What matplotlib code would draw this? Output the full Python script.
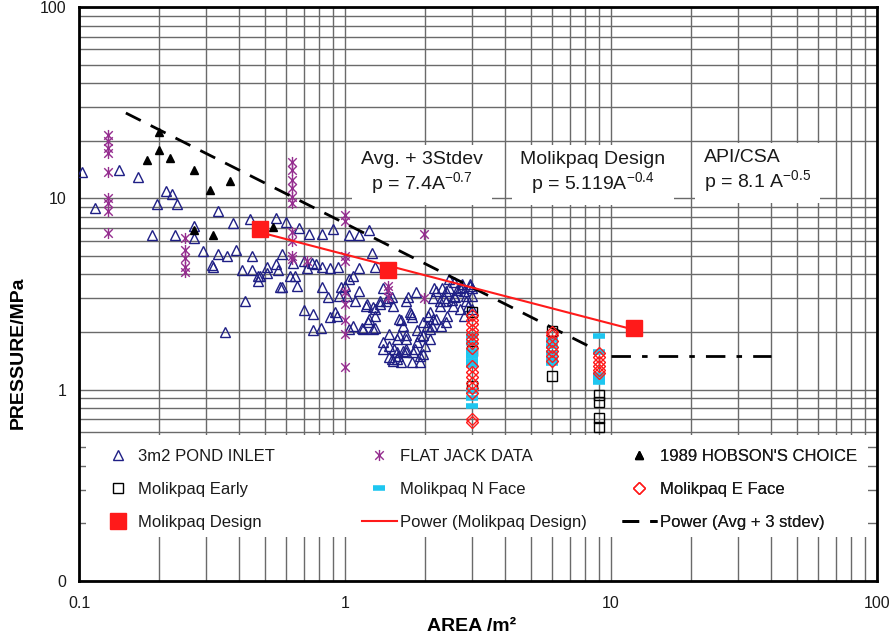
import numpy as np
import matplotlib.pyplot as plt
from matplotlib.lines import Line2D
from matplotlib.patches import Rectangle
from matplotlib.path import Path
from matplotlib.ticker import LogLocator, NullFormatter

plt.rcParams['font.family'] = ['Liberation Sans', 'DejaVu Sans']
plt.rcParams['mathtext.fontset'] = 'custom'
plt.rcParams['mathtext.rm'] = 'Liberation Sans'
plt.rcParams['mathtext.it'] = 'Liberation Sans'
plt.rcParams['mathtext.default'] = 'regular'

# 3m2 Pond Inlet tests (area m2, pressure MPa)
pond_area = [0.103, 0.115, 0.141, 0.166, 0.196, 0.212, 0.223, 0.233, 0.188, 0.23,
             0.27, 0.27, 0.292, 0.316, 0.333, 0.333, 0.32, 0.36, 0.378, 0.39,
             0.41, 0.44, 0.447, 0.447, 0.42, 0.355, 0.47, 0.47, 0.51, 0.51,
             0.55, 0.56, 0.57, 0.58, 0.55, 0.6, 0.67, 0.73, 0.82, 0.9,
             0.62, 0.65, 0.66, 0.7, 0.72, 0.78, 0.82, 0.88, 0.94, 0.7,
             0.76, 0.76, 0.81, 0.82, 0.86, 0.88, 0.92, 0.97, 0.95, 0.93,
             0.64, 0.75, 0.58, 0.48,
             1.04, 1.13, 1.23, 1.26, 1.13, 1.3, 1.07, 1.0, 1.09, 1.04,
             1.02, 1.13, 1.2, 1.07, 1.04, 1.17, 1.28, 1.22, 1.3, 1.35,
             1.28, 1.23, 1.21, 1.3, 1.39, 1.43, 1.47, 1.52, 1.6, 1.73,
             1.78, 1.65, 1.39, 1.39, 1.47, 1.53, 1.58, 1.52, 1.47, 1.57,
             1.62, 1.7, 1.65, 1.86, 1.91, 1.91, 1.96, 2.08, 2.05, 2.2,
             2.27, 2.2, 2.31, 2.46, 2.57, 2.7, 2.85, 3.0, 2.4, 2.55,
             2.42, 2.3, 2.13, 2.7, 2.85, 2.08, 2.0, 1.84, 1.7, 1.6,
             1.47, 2.57, 2.46, 2.75, 2.94, 3.0, 2.8, 3.0, 1.78, 1.5,
             1.8, 2.08, 2.28, 2.4, 2.63, 2.8, 2.94, 2.15, 2.4, 2.03,
             1.86, 1.7, 1.57, 1.63, 1.77, 1.96, 1.91, 1.7, 1.57, 1.76,
             1.96, 2.15, 1.5, 1.7, 1.85, 2.17, 1.35, 1.16, 1.3, 2.9,
             2.6, 2.35, 2.75, 2.52]
pond_pres = [13.8, 8.9, 14.1, 12.9, 9.3, 10.9, 10.6, 9.3, 6.4, 6.4,
             7.2, 6.2, 5.3, 4.5, 8.6, 5.1, 4.4, 5.0, 7.4, 5.4,
             4.2, 7.8, 5.0, 4.2, 2.9, 2.0, 3.95, 3.7, 4.4, 4.05,
             4.55, 4.2, 3.45, 5.1, 7.9, 7.5, 7.0, 6.5, 6.5, 6.9,
             3.95, 3.95, 3.5, 4.7, 4.3, 4.55, 4.4, 4.3, 4.4, 2.6,
             2.5, 2.05, 2.1, 3.45, 3.05, 2.4, 2.55, 3.45, 3.1, 2.44,
             4.6, 4.6, 3.45, 3.95,
             6.4, 6.4, 6.8, 5.15, 4.3, 4.4, 3.95, 3.5, 2.9, 3.8,
             3.1, 3.26, 2.75, 2.15, 2.08, 2.08, 2.08, 2.27, 2.44, 2.8,
             2.7, 2.35, 2.8, 2.65, 3.4, 2.9, 3.0, 2.75, 2.35, 3.06,
             2.4, 2.16, 1.78, 1.64, 1.7, 1.64, 1.5, 1.42, 1.49, 1.45,
             1.4, 1.58, 1.6, 1.78, 1.5, 1.4, 1.92, 2.08, 2.44, 2.35,
             2.75, 3.26, 3.38, 3.38, 3.1, 3.38, 3.1, 3.38, 2.9, 2.75,
             2.44, 2.16, 2.16, 2.65, 2.9, 1.85, 1.7, 1.64, 1.85, 1.92,
             1.96, 3.67, 3.8, 3.58, 3.58, 3.1, 2.44, 2.65, 1.4, 1.45,
             1.58, 2.56, 2.9, 3.26, 3.3, 3.26, 3.5, 3.0, 2.27, 2.16,
             2.04, 1.92, 1.85, 2.3, 2.5, 2.27, 1.9, 1.64, 1.58, 2.55,
             1.54, 2.35, 3.05, 2.9, 3.25, 3.4, 2.9, 2.1, 2.1, 2.75,
             3.05, 3.0, 3.45, 2.95]

# Flat jack data
jack_area = [0.128] * 9 + [0.25] * 5 + [0.63] * 10 + [0.72] + [1.0] * 9 + [1.45] * 3 + [1.98, 1.98]
jack_pres = [21.5, 20.0, 18.3, 17.2, 13.7, 10.0, 9.4, 8.6, 6.6,
             6.2, 5.4, 4.9, 4.4, 4.1,
             15.5, 14.0, 12.4, 11.3, 10.2, 9.4, 6.7, 6.0, 5.0, 4.8,
             4.7,
             8.2, 7.6, 5.0, 4.7, 3.25, 2.8, 2.3, 1.95, 1.32,
             3.5, 3.3, 3.05,
             6.55, 3.0]

# 1989 Hobson's Choice
hobson_area = [0.18, 0.2, 0.2, 0.22, 0.27, 0.27, 0.31, 0.32, 0.37, 0.535]
hobson_pres = [15.8, 22.2, 18.0, 16.2, 14.0, 6.8, 11.0, 6.4, 12.3, 7.1]

# Molikpaq faces
early_area = [3, 3, 3, 6, 6, 9, 9, 9, 9]
early_pres = [2.55, 1.6, 1.05, 2.03, 1.18, 0.94, 0.86, 0.71, 0.64]
nface_area = [3] * 9 + [6] * 5 + [9] * 5
nface_pres = [1.9, 1.75, 1.6, 1.5, 1.42, 1.35, 0.98, 0.9, 0.82,
              1.82, 1.7, 1.55, 1.45, 1.38,
              1.9, 1.58, 1.2, 1.15, 1.1]
eface_area = [3] * 16 + [6] * 7 + [9] * 6
eface_pres = [2.45, 2.3, 2.2, 2.05, 1.95, 1.85, 1.75, 1.65, 1.33, 1.24, 1.16, 1.08,
              1.02, 0.96, 0.7, 0.68,
              2.0, 1.92, 1.8, 1.68, 1.6, 1.5, 1.42,
              1.55, 1.48, 1.4, 1.33, 1.27, 1.22]

# Molikpaq design points
design_area = [0.48, 1.45, 12.2]
design_pres = [6.9, 4.2, 2.1]

# Avg + 3 stdev curve p = c * A^k, then flat cap
avg_coef, avg_exp = 7.4, -0.7
avg_range = [0.15, 9.0]
cap_pres = 1.5
cap_range = [10.0, 40.0]

# asterisk marker: an x with a vertical bar
star = Path([(-1, -1), (1, 1), (-1, 1), (1, -1), (0, -1.3), (0, 1.3)],
            [Path.MOVETO, Path.LINETO] * 3)

navy = '#1f1f85'
purple = '#952e8f'
cyan = '#1ec6f0'
red = '#ff1a1a'

fig = plt.figure(figsize=(8.92, 6.43), dpi=100)
ax = fig.add_axes([0.0886, 0.0964, 0.8944, 0.8927])

ax.plot(pond_area, pond_pres, ls='none', marker='^', ms=7.5, mfc='none', mec=navy, mew=1.0, zorder=3)
ax.plot(jack_area, jack_pres, ls='none', marker=star, ms=8, mfc='none', mec=purple, mew=1.0, zorder=3)
ax.plot(hobson_area, hobson_pres, ls='none', marker='^', ms=6, color='black', zorder=3)

a = np.geomspace(*avg_range, 50)
ax.plot(a, avg_coef * a ** avg_exp, color='black', lw=2, dashes=(6, 4), zorder=4)
ax.plot(cap_range, [cap_pres, cap_pres], color='black', lw=2, dashes=(7, 4, 2, 4), zorder=4)

# power trendline through design points
k, logc = np.polyfit(np.log10(design_area), np.log10(design_pres), 1)
d = np.geomspace(design_area[0], design_area[-1], 50)
ax.plot(d, 10 ** logc * d ** k, color=red, lw=1.5, zorder=4)

ax.plot(early_area, early_pres, ls='none', marker='s', ms=7.5, mfc='none', mec='black', mew=1.0, zorder=5)
ax.plot(nface_area, nface_pres, ls='none', marker='_', ms=8.5, mec=cyan, mew=4, zorder=5)
ax.plot(eface_area, eface_pres, ls='none', marker='D', ms=6.5, mfc='none', mec=red, mew=1.0, zorder=5)
ax.plot(design_area, design_pres, ls='none', marker='s', ms=11.5, color=red, zorder=6)

ax.set_xscale('log')
ax.set_yscale('log')
ax.set_xlim(0.1, 100)
ax.set_ylim(0.1, 100)
ax.set_xticks([0.1, 1, 10, 100], ['0.1', '1', '10', '100'])
ax.set_yticks([0.1, 1, 10, 100], ['0', '1', '10', '100'])
for axis in (ax.xaxis, ax.yaxis):
    axis.set_minor_locator(LogLocator(base=10, subs=np.arange(2, 10)))
    axis.set_minor_formatter(NullFormatter())
ax.tick_params(which='both', length=0, labelsize=11.5, colors='#1a1a1a')
ax.tick_params(axis='y', pad=9)
ax.tick_params(axis='x', pad=11)
ax.grid(True, which='both', color='#6a6a6a', lw=1.0)
ax.set_axisbelow(True)
for s in ax.spines.values():
    s.set_linewidth(2)
    s.set_color('black')

ax.set_xlabel('AREA /m²', fontsize=14, fontweight='bold')
ax.set_ylabel('PRESSURE/MPa', fontsize=14, fontweight='bold')
ax.xaxis.set_label_coords(0.4925, -0.064)
ax.yaxis.set_label_coords(-0.066, 0.397)

# equation boxes
box = dict(boxstyle='square,pad=0.45', fc='white', ec='none')
ax.text(0.43, 0.71, 'Avg. + 3Stdev\np = 7.4A$^{-0.7}$', transform=ax.transAxes,
        ha='center', va='center', multialignment='center', fontsize=14,
        linespacing=1.12, color='#1a1a1a', bbox=box, zorder=7)
ax.text(0.644, 0.71, 'Molikpaq Design\np = 5.119A$^{-0.4}$', transform=ax.transAxes,
        ha='center', va='center', multialignment='center', fontsize=14,
        linespacing=1.12, color='#1a1a1a', bbox=box, zorder=7)
ax.text(0.783, 0.714, 'API/CSA\np = 8.1 A$^{-0.5}$', transform=ax.transAxes,
        ha='left', va='center', multialignment='left', fontsize=14,
        linespacing=1.12, color='#1a1a1a', bbox=box, zorder=7)

# legend: white panel with three columns
ax.add_patch(Rectangle((0.009, 0.077), 0.98, 0.177, transform=ax.transAxes,
                       fc='white', ec='none', zorder=8))
h_pond = Line2D([], [], ls='none', marker='^', ms=7.5, mfc='none', mec=navy, mew=1.0)
h_jack = Line2D([], [], ls='none', marker=star, ms=8, mfc='none', mec=purple, mew=1.0)
h_hob = Line2D([], [], ls='none', marker='^', ms=6, color='black')
h_early = Line2D([], [], ls='none', marker='s', ms=7.5, mfc='none', mec='black', mew=1.0)
h_n = Line2D([], [], ls='none', marker='_', ms=8.5, mec=cyan, mew=4)
h_e = Line2D([], [], ls='none', marker='D', ms=6.5, mfc='none', mec=red, mew=1.0)
h_des = Line2D([], [], ls='none', marker='s', ms=11.5, color=red)
h_pdes = Line2D([], [], color=red, lw=1.5)
h_pavg = Line2D([], [], color='black', lw=2, dashes=(6, 4))

columns = [
    ([h_pond, h_early, h_des], ['3m2 POND INLET', 'Molikpaq Early', 'Molikpaq Design'], 0.0263),
    ([h_jack, h_n, h_pdes], ['FLAT JACK DATA', 'Molikpaq N Face', 'Power (Molikpaq Design)'], 0.3546),
    ([h_hob, h_e, h_pavg], ["1989 HOBSON'S CHOICE", 'Molikpaq E Face', 'Power (Avg + 3 stdev)'], 0.6805),
]
for handles, labels, x0 in columns:
    leg = ax.legend(handles, labels, loc='upper left', bbox_to_anchor=(x0, 0.2295),
                    bbox_transform=ax.transAxes, frameon=False, fontsize=12,
                    handlelength=2.1, handletextpad=0.2, borderpad=0, borderaxespad=0,
                    labelspacing=1.08)
    leg.set_zorder(9)
    for t in leg.get_texts():
        t.set_color('#1a1a1a')
    ax.add_artist(leg)

fig.savefig('out.png', dpi=100)
